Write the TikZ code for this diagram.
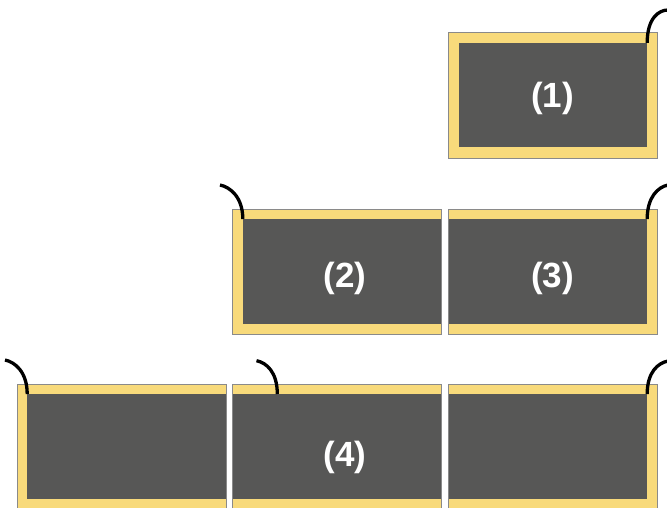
\documentclass[tikz,border=0pt]{standalone}
\usepackage{fontspec}
\setmainfont{Liberation Sans}
\usetikzlibrary{positioning}
\definecolor{frameyellow}{HTML}{F8DA7B}
\definecolor{coregray}{HTML}{575756}
\definecolor{edgegray}{HTML}{8A8A8A}

\begin{document}
\begin{tikzpicture}[x=1pt,y=-1pt,
    panel/.style={rectangle, draw=edgegray, line width=0.8pt, fill=frameyellow,
        inner sep=0pt, minimum width=209pt, minimum height=125.5pt, anchor=north west},
    core/.style={rectangle, fill=coregray, inner sep=0pt, minimum height=104.5pt, anchor=north west},
    tag/.style={text=white, font=\bfseries\fontsize{35}{35}\selectfont},
    cable/.style={line width=3.3pt, black}]

\useasboundingbox (0,0) rectangle (667,508);

% outer frames
\node[panel] (p1) at (448.3,32.3) {};
\node[panel] (p2) at (232.3,208.5) {};
\node[panel] (p3) at (448.3,208.5) {};
\node[panel] (p4a) at (16.7,383.5) {};
\node[panel] (p4b) at (232.3,383.5) {};
\node[panel] (p4c) at (448.3,383.5) {};

% dark inner parts
\node[core, minimum width=188pt] (c1) at ([shift={(10.5,10.5)}]p1.north west) {};
\node[core, minimum width=198.1pt] (c2) at ([shift={(10.5,10.5)}]p2.north west) {};
\node[core, minimum width=198.1pt] (c3) at ([shift={(0.4,10.5)}]p3.north west) {};
\node[core, minimum width=198.1pt] (c4a) at ([shift={(10.5,10.5)}]p4a.north west) {};
\node[core, minimum width=208.2pt] (c4b) at ([shift={(0.4,10.5)}]p4b.north west) {};
\node[core, minimum width=198.1pt] (c4c) at ([shift={(0.4,10.5)}]p4c.north west) {};

% labels
\node[tag] (t1) at (552.5,98.3) {(1)};
\node[tag] (t2) at (345,278) {(2)};
\node[tag] (t3) at (552.5,278) {(3)};
\node[tag] (t4) at (345,457) {(4)};

% cables
\coordinate (e1) at (668,10);
\coordinate (e2) at (220,185);
\coordinate (e3) at (668,185);
\coordinate (e4a) at (5,360);
\coordinate (e4b) at (256.5,360.7);
\coordinate (e4c) at (668,361);
\coordinate (s4b) at ([xshift=44.6]c4b.north west);

\draw[cable] (c1.north east) .. controls +(0,-25) and +(-9,0) .. (e1);
\draw[cable] (c2.north west) .. controls +(0,-22) and +(10,2) .. (e2);
\draw[cable] (c3.north east) .. controls +(0,-22) and +(-10,2) .. (e3);
\draw[cable] (c4a.north west) .. controls +(0,-22) and +(10,2) .. (e4a);
\draw[cable] (s4b) .. controls +(0,-22) and +(10,2) .. (e4b);
\draw[cable] (c4c.north east) .. controls +(0,-22) and +(-10,2) .. (e4c);
\end{tikzpicture}
\end{document}
